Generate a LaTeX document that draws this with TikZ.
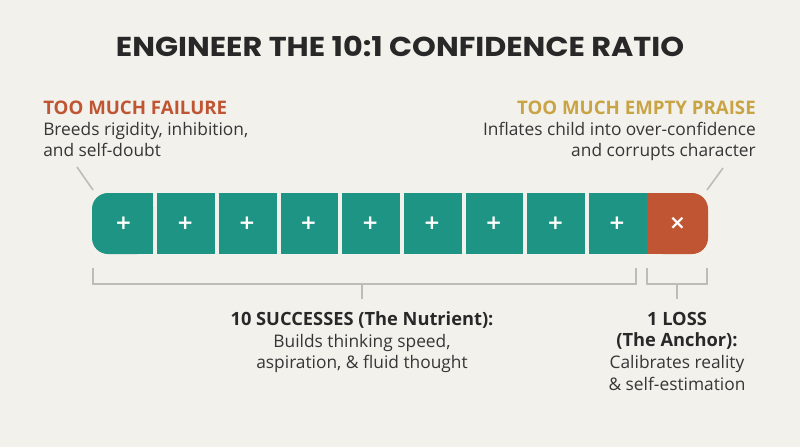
\documentclass[tikz,border=0pt]{standalone}
\usepackage{fontspec}
\setmainfont{Open Sans}
\newfontfamily\titlefont{Poppins}
\newfontfamily\signfont{DejaVu Sans}
\definecolor{bgc}{HTML}{F2F1EC}
\definecolor{tealc}{HTML}{1E9484}
\definecolor{rustc}{HTML}{BF5532}
\definecolor{goldc}{HTML}{C9A444}
\definecolor{titlec}{HTML}{282828}
\definecolor{bodyc}{HTML}{363636}
\definecolor{linec}{HTML}{BDBDB8}
\tikzset{
  ttl/.style={font=\titlefont\bfseries\fontsize{20.5}{22}\selectfont, text=titlec, inner sep=0},
  head/.style={font=\bfseries\fontsize{14}{16}\selectfont, inner sep=0},
  body/.style={font=\fontsize{13}{16}\selectfont, text=bodyc, inner sep=0},
  bhead/.style={font=\bfseries\fontsize{13.7}{16}\selectfont, text=titlec, inner sep=0},
  sign/.style={font=\signfont\bfseries\fontsize{15}{16}\selectfont, text=white, inner sep=0},
  lead/.style={draw=linec, line width=1.2pt},
  brk/.style={draw=linec, line width=1.2pt},
}
\begin{document}
\begin{tikzpicture}[x=0.75pt,y=-0.75pt]
\fill[bgc] (0,0) rectangle (800,447);
\useasboundingbox (0,0) rectangle (800,447);
% title
\node[ttl, anchor=base] (title) at (400,56.7) {\scalebox{1.108}[1]{ENGINEER THE 10:1 CONFIDENCE RATIO}};
% left texts
\node[head, text=rustc, anchor=base west] (lh) at (43,114) {TOO MUCH FAILURE};
\node[body, anchor=base west] (lb1) at (43,135) {Breeds rigidity, inhibition,};
\node[body, anchor=base west] (lb2) at (43,156.5) {and self-doubt};
% right texts
\node[head, text=goldc, anchor=base east] (rh) at (756,114) {TOO MUCH EMPTY PRAISE};
\node[body, anchor=base east] (rb1) at (756,135) {Inflates child into over-confidence};
\node[body, anchor=base east] (rb2) at (756,156.5) {and corrupts character};
% blocks
\fill[tealc, rounded corners=12] (92,193) rectangle (153.2,254);
\fill[tealc] (125,193) rectangle (153.2,254);
\foreach \i in {1,...,8} {
  \fill[tealc] ({92+61.7*\i+3.5},193) rectangle ({92+61.7*\i+61.2},254);
}
\fill[rustc, rounded corners=12] (647,193) rectangle (708,254);
\fill[rustc] (647,193) rectangle (675,254);
\foreach \i in {1,...,9} {
  \node[sign] (b\i) at ({92+61.7*(\i-1)+31.5},223.5) {+};
}
\node[sign] (b10) at (677.5,223.5) {×};
% leader lines
\coordinate (lt) at (77,167);
\coordinate (lc) at (93,190);
\coordinate (rt) at (723,168);
\coordinate (rc) at (707,190);
\draw[lead] (lt) -- (lc);
\draw[lead] (rt) -- (rc);
% brackets
\coordinate (s1) at (93,268);
\coordinate (s2) at (636,268);
\coordinate (sm) at (362,284);
\draw[brk] (s1) -- (93,284) -- (636,284) -- (s2);
\draw[brk] (sm) -- (362,299);
\coordinate (f1) at (647,268);
\coordinate (f2) at (707,268);
\coordinate (fm) at (677,284);
\draw[brk] (f1) -- (647,284) -- (707,284) -- (f2);
\draw[brk] (fm) -- (677,299);
% bottom texts
\node[bhead, anchor=base] (sh) at (362,325) {10 SUCCESSES (The Nutrient):};
\node[body, anchor=base] (sb1) at (362,347) {Builds thinking speed,};
\node[body, anchor=base] (sb2) at (362,368.5) {aspiration, \& fluid thought};
\node[bhead, anchor=base] (fh1) at (677,325) {1 LOSS};
\node[bhead, anchor=base] (fh2) at (677,346.5) {(The Anchor):};
\node[body, anchor=base] (fb1) at (677,368.5) {Calibrates reality};
\node[body, anchor=base] (fb2) at (677,390) {\& self-estimation};
\end{tikzpicture}
\end{document}
